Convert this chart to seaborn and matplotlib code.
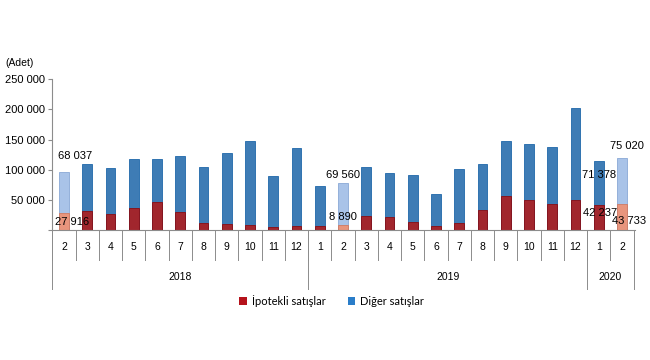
import numpy as np
import pandas as pd
import seaborn as sns
import matplotlib.pyplot as plt
from matplotlib.patches import Patch
from matplotlib.transforms import blended_transform_factory

# monthly house sales, Feb 2018 - Feb 2020
months = [2, 3, 4, 5, 6, 7, 8, 9, 10, 11, 12,
          1, 2, 3, 4, 5, 6, 7, 8, 9, 10, 11, 12,
          1, 2]
years = ["2018"] * 11 + ["2019"] * 12 + ["2020"] * 2
mortgage = [27916, 31200, 26700, 36100, 47200, 30000, 12200, 10500, 7800, 5500, 6700,
            6500, 8890, 23900, 21100, 13300, 6700, 12200, 33300, 56700, 50000, 43300, 50000,
            42237, 43733]
other = [68037, 78300, 76100, 82200, 71000, 93300, 91700, 117300, 139400, 84000, 130000,
         66300, 69560, 80000, 73900, 77200, 53800, 89500, 76700, 90500, 92800, 95000, 152200,
         71378, 75020]
highlight = [0, 12, 24]  # Feb of each year drawn in pale colours

RED, BLUE = "#B5121B", "#2A7DC9"
RED_L, BLUE_L = "#E8957D", "#A9C3E8"

df = pd.DataFrame({"month": months, "year": years, "mortgage": mortgage, "other": other})
df["total"] = df["mortgage"] + df["other"]
df["pos"] = np.arange(len(df))

plt.rcParams["font.family"] = ["Liberation Sans", "DejaVu Sans"]
fig = plt.figure(figsize=(6.5, 3.6), dpi=100)
ax = fig.add_axes([0.08, 0.361, 0.897, 0.419])

sns.barplot(data=df, x="pos", y="total", color=BLUE, width=0.42, ax=ax,
            edgecolor="#1F67AA", linewidth=0.6)
n = len(df)
sns.barplot(data=df, x="pos", y="mortgage", color=RED, width=0.42, ax=ax,
            edgecolor="#8A0C12", linewidth=0.6)
for i in highlight:
    ax.patches[i].set_facecolor(BLUE_L)
    ax.patches[i].set_edgecolor("#8AA8D6")
    ax.patches[n + i].set_facecolor(RED_L)
    ax.patches[n + i].set_edgecolor("#D07A62")

ax.set_xlim(-0.52, n - 0.44)
ax.set_ylim(0, 250000)
ax.set_yticks(np.arange(0, 250001, 50000))
ax.set_yticklabels([""] + [f"{v:,}".replace(",", " ") for v in range(50000, 250001, 50000)],
                   fontsize=8)
ax.set_xticks([])
ax.set_xlabel("")
ax.set_ylabel("")
for s in ["top", "right"]:
    ax.spines[s].set_visible(False)
for s in ["left", "bottom"]:
    ax.spines[s].set_color("#8C8C8C")
ax.tick_params(axis="y", length=3, color="#8C8C8C", pad=2)

# month / year category axis drawn below the plot
tr = blended_transform_factory(ax.transData, ax.transAxes)
for i, m in enumerate(months):
    ax.text(i, -0.11, str(m), transform=tr, ha="center", va="center", fontsize=7.5)
    ax.plot([i - 0.5, i - 0.5], [0, -0.2], transform=tr, color="#8C8C8C", lw=0.7, clip_on=False)
ax.plot([n - 0.5, n - 0.5], [0, -0.39], transform=tr, color="#8C8C8C", lw=0.7, clip_on=False)
start = 0
for y in ["2018", "2019", "2020"]:
    cnt = years.count(y)
    ax.plot([start - 0.5, start - 0.5], [0, -0.39], transform=tr, color="#8C8C8C", lw=0.7,
            clip_on=False)
    ax.text(start + (cnt - 1) / 2, -0.31, y, transform=tr, ha="center", va="center", fontsize=7.5)
    start += cnt

# value labels
def fmt(v):
    return f"{v:,}".replace(",", " ")

lab = {0: [(0.47, 122000, other[0]), (0.35, 13900, mortgage[0])],
       12: [(0.0, 90500, other[12]), (0.0, 21700, mortgage[12])],
       23: [(0.0, 90500, other[23]), (0.05, 28000, mortgage[23])],
       24: [(0.2, 140000, other[24]), (0.3, 15500, mortgage[24])]}
for i, items in lab.items():
    for dx, yv, v in items:
        ax.text(i + dx, yv, fmt(v), ha="center", va="center", fontsize=8)

fig.text(0.008, 0.825, "(Adet)", fontsize=7.5, ha="left", va="center")

handles = [Patch(facecolor=RED, label="İpotekli satışlar"),
           Patch(facecolor=BLUE, label="Diğer satışlar")]
fig.legend(handles=handles, loc="center", bbox_to_anchor=(0.51, 0.165), ncol=2, frameon=False,
           handlelength=0.7, handleheight=0.7, handletextpad=0.4, columnspacing=2.0,
           prop={"family": ["Lato", "DejaVu Sans"], "size": 8})

fig.savefig("out.png", dpi=100)
